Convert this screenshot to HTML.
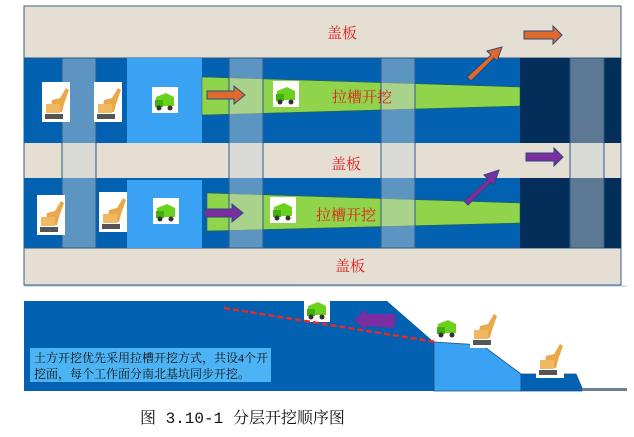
<!DOCTYPE html>
<html><head><meta charset="utf-8"><style>
html,body{margin:0;padding:0;background:#fff;width:634px;height:437px;overflow:hidden}
svg{display:block}
text{font-family:"Liberation Serif","Noto Serif CJK SC",serif}
</style></head><body>
<svg width="634" height="437" viewBox="0 0 634 437" xmlns="http://www.w3.org/2000/svg">
<defs>
<g id="exc">
 <rect x="0" y="0" width="28" height="40" fill="#fff"/>
 <path d="M8 30 L10 18 L18 16 L24 6 L27 8 L22 22 L20 30 Z" fill="#e9a94a"/>
 <rect x="4" y="22" width="14" height="9" fill="#f0b860"/>
 <rect x="3" y="32" width="18" height="5" fill="#555"/>
</g>
<g id="trk">
 <rect x="0" y="0" width="26" height="26" fill="#fff"/>
 <path d="M4 10 L14 6 L22 10 L22 19 L4 19 Z" fill="#6ad21c"/>
 <rect x="3" y="13" width="8" height="7" fill="#3fb010"/>
 <circle cx="7" cy="21" r="2.5" fill="#333"/><circle cx="18" cy="21" r="2.5" fill="#333"/>
</g>
</defs>
<!-- top diagram -->
<rect x="24" y="6" width="597" height="279" fill="#e5ded2" stroke="#3a5f8a" stroke-width="1"/>
<rect x="24" y="58" width="597" height="85" fill="#0261b0"/>
<rect x="24" y="178" width="597" height="70" fill="#0261b0"/>
<line x1="24" y1="58" x2="621" y2="58" stroke="#30557d"/>
<line x1="24" y1="248" x2="621" y2="248" stroke="#30557d"/>
<rect x="127" y="58" width="75" height="85" fill="#39a2f3"/>
<rect x="127" y="180" width="75" height="68" fill="#39a2f3"/>
<rect x="520" y="58" width="101" height="85" fill="#032e5a"/>
<rect x="520" y="178" width="101" height="70" fill="#032e5a"/>
<polygon points="202,77 520,87 520,106 202,115" fill="#8fd44a" stroke="#2d5f2d" stroke-width="0.5"/>
<polygon points="207,193 520,203 520,223 207,231" fill="#8fd44a" stroke="#2d5f2d" stroke-width="0.5"/>
<!-- pillars -->
<g fill="#c9d3d9" fill-opacity="0.45" stroke="#2d5a8a" stroke-width="1">
<rect x="62" y="58" width="34" height="190"/>
<rect x="229" y="58" width="34" height="190"/>
<rect x="381" y="58" width="34" height="190"/>
<rect x="570" y="58" width="34" height="190"/>
</g>
<!-- icons -->
<use href="#exc" x="42" y="82"/><use href="#exc" x="94" y="82"/>
<use href="#trk" x="152" y="87"/><use href="#trk" x="273" y="81"/>
<use href="#exc" x="37" y="195"/><use href="#exc" x="99" y="192"/>
<use href="#trk" x="153" y="198"/><use href="#trk" x="270" y="197"/>
<!-- arrows -->
<polygon points="207,91 234,91 234,86 245,95 234,104 234,99 207,99" fill="#e06a2c" stroke="#2a4a7a" stroke-width="1"/>
<polygon points="205,209 232,209 232,204 243,213 232,222 232,217 205,217" fill="#7a2ea0" stroke="#2a4a7a" stroke-width="1"/>
<polygon points="524,31 553,31 553,26 562,35 553,44 553,39 524,39" fill="#e06a2c" stroke="#2a4a7a" stroke-width="1"/>
<polygon points="526,153 554,153 554,148 563,157 554,166 554,161 526,161" fill="#7a2ea0" stroke="#2a4a7a" stroke-width="1"/>
<polygon points="467,77 491,55 487,51 502,47 497,61 494,58 471,81" fill="#e06a2c" stroke="#2a4a7a" stroke-width="1"/>
<polygon points="464,201 488,179 484,175 499,170 494,185 491,182 468,205" fill="#7a2ea0" stroke="#2a4a7a" stroke-width="1"/>
<!-- labels -->
<g fill="#e02020" font-size="15">
<text x="327" y="38">盖板</text>
<text x="331" y="169">盖板</text>
<text x="335" y="271">盖板</text>
<text x="332" y="102">拉槽开挖</text>
<text x="316" y="220">拉槽开挖</text>
</g>
<!-- bottom diagram -->
<line x1="24" y1="286" x2="627" y2="286" stroke="#aac4dc"/>
<polygon points="24,301 387,301 434,342 434,391 24,391" fill="#0261b0"/>
<polygon points="434,342 482,345 521,374 521,391 434,391" fill="#39a2f3" stroke="#1a4f88" stroke-width="0.8"/>
<polygon points="521,374 576,374 582,388 582,391 521,391" fill="#0261b0" stroke="#1a4f88" stroke-width="0.8"/>
<rect x="582" y="388" width="45" height="3" fill="#6a7e96"/>
<rect x="304" y="296" width="26" height="26" fill="#fff"/>
<use href="#trk" x="304" y="296"/>
<use href="#trk" x="434" y="314"/>
<use href="#exc" x="470" y="308"/><use href="#exc" x="536" y="338"/>
<line x1="224" y1="308" x2="436" y2="342" stroke="#e52a2a" stroke-width="2.5" stroke-dasharray="6,3"/>
<polygon points="395,314 366,314 366,309 354,320 366,330 366,326 395,328" fill="#7a2ea0"/>
<rect x="30" y="348" width="241" height="34" fill="#4cb4f5"/>
<g font-family="Liberation Sans,Noto Sans CJK SC,sans-serif" font-size="12" fill="#111" style="font-family:'Liberation Sans','Noto Sans CJK SC',sans-serif">
<text x="34" y="362">土方开挖优先采用拉槽开挖方式，共设4个开</text>
<text x="34" y="378">挖面，每个工作面分南北基坑同步开挖。</text>
</g>
<text x="140" y="423" font-size="16" fill="#111" style="font-family:'Liberation Mono','Noto Serif CJK SC',serif">图 3.10-1 分层开挖顺序图</text>
</svg>
</body></html>
